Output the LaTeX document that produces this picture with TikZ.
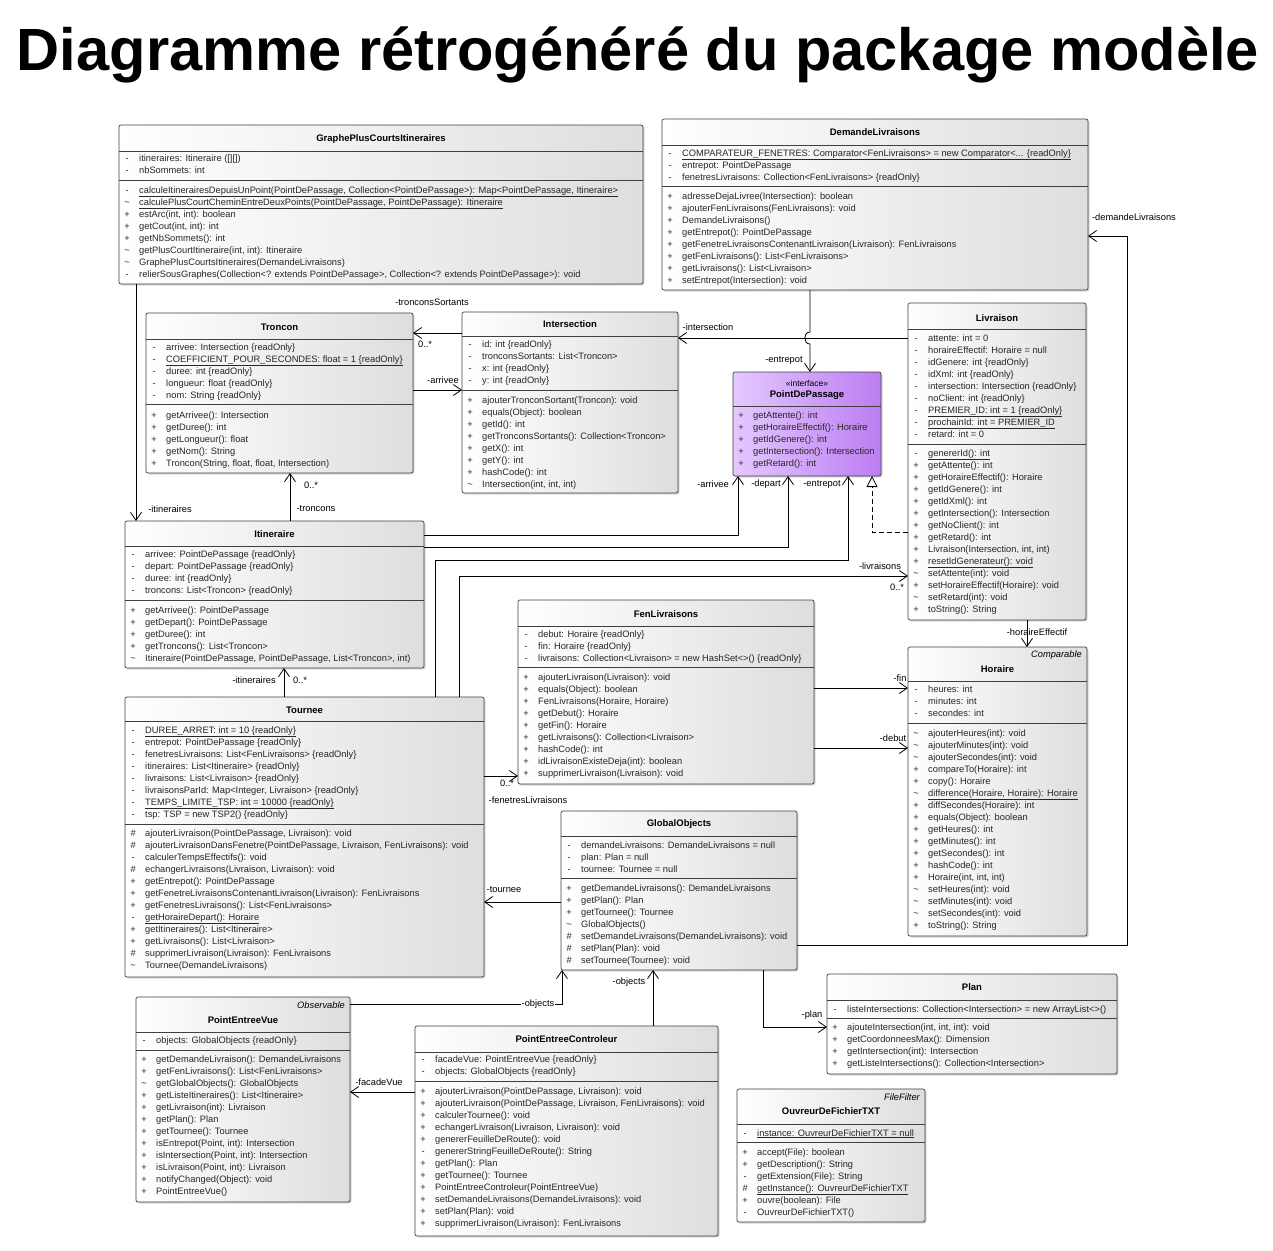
\documentclass[tikz,border=0pt]{standalone}
\usepackage{fontspec}
\setmainfont{Liberation Sans}
\usepackage{array}
\usepackage{graphicx}
\usetikzlibrary{arrows.meta,shadows}
\definecolor{pdpleft}{RGB}{228,200,255}
\definecolor{pdpright}{RGB}{188,125,242}
\newcommand\umlfont{\fontsize{9.3}{12}\selectfont}
\newcommand\umltitlefont{\fontsize{9.5}{12}\selectfont\bfseries}
\newcommand\umltilde{\textasciitilde}
\newcommand\RO{\{readOnly\}}
\newcommand\umlbox[8][]{%
  \node[classbox,#1,minimum width={(#5-#3)*1pt},minimum height={(#6-#4)*1pt}] (#2) at (#3,#4) {};
  \draw[sepline] (#2.west |- 0,#7) -- (#2.east |- 0,#7);
  \draw[sepline] (#2.west |- 0,#8) -- (#2.east |- 0,#8);
}
\newcommand\comp[4]{\node[comptext] (#1) at (#2+4,#3+3) {\begin{tabular}[t]{@{}>{\centering\arraybackslash}p{8pt}@{\hspace{8pt}}l@{}}#4\end{tabular}};}
\tikzset{
 classbox/.style={draw=black!75, line width=0.7pt, rounded corners=2pt, left color=white, right color=black!13,
   drop shadow={shadow xshift=1.5pt, shadow yshift=-1.5pt, opacity=0.3}, anchor=north west, inner sep=0pt, outer sep=0pt},
 ifacebox/.style={left color=pdpleft, right color=pdpright},
 sepline/.style={draw=black!75, line width=0.7pt},
 titletext/.style={font=\umltitlefont, text=black, inner sep=0pt},
 comptext/.style={anchor=base west, inner sep=0pt, font=\umlfont, text=black!85},
 lbl/.style={font=\umlfont, inner sep=0.5pt, text=black},
 assoc/.style={draw=black, line width=0.8pt, -{Straight Barb[length=8pt,width=11pt]}},
 realiz/.style={draw=black, line width=0.8pt, dash pattern=on 5pt off 3pt, -{Triangle[open,length=11pt,width=11pt,fill=white]}},
 stereo/.style={font=\umlfont\itshape, inner sep=0pt, anchor=east, text=black}
}
\begin{document}
\begin{tikzpicture}[x=1pt,y=-1pt]
\fill[white] (0,0) rectangle (1273,1250);
\useasboundingbox (0,0) rectangle (1273,1250);
\node[anchor=base, inner sep=0pt] (title) at (638,70) {\resizebox{1242pt}{!}{\bfseries Diagramme rétrogénéré du package modèle}};

\coordinate (hopA) at (810,332);
\coordinate (hopB) at (810,344);
\coordinate (bendDem) at (1127,236);
\coordinate (bendEnt) at (848,560);

% ---------- GraphePlusCourtsItineraires ----------
\umlbox{graphe}{119}{125}{643}{284}{151}{180}
\node[titletext] (graphe-t) at (graphe.north |- 0,139) {GraphePlusCourtsItineraires};
\comp{graphe-a}{119}{158}{- & itineraires: Itineraire ([][])\\
- & nbSommets: int}
\comp{graphe-m}{119}{190}{- & \underline{calculeItinerairesDepuisUnPoint(PointDePassage, Collection<PointDePassage>): Map<PointDePassage, Itineraire>}\\
\umltilde & \underline{calculePlusCourtCheminEntreDeuxPoints(PointDePassage, PointDePassage): Itineraire}\\
+ & estArc(int, int): boolean\\
+ & getCout(int, int): int\\
+ & getNbSommets(): int\\
\umltilde & getPlusCourtItineraire(int, int): Itineraire\\
\umltilde & GraphePlusCourtsItineraires(DemandeLivraisons)\\
- & relierSousGraphes(Collection<? extends PointDePassage>, Collection<? extends PointDePassage>): void}

% ---------- DemandeLivraisons ----------
\umlbox{dem}{662}{119}{1088}{290}{145}{186}
\node[titletext] (dem-t) at (dem.north |- 0,132) {DemandeLivraisons};
\comp{dem-a}{662}{153}{- & \underline{COMPARATEUR\_FENETRES: Comparator<FenLivraisons> = new Comparator<... \RO}\\
- & entrepot: PointDePassage\\
- & fenetresLivraisons: Collection<FenLivraisons> \RO}
\comp{dem-m}{662}{196}{+ & adresseDejaLivree(Intersection): boolean\\
+ & ajouterFenLivraisons(FenLivraisons): void\\
+ & DemandeLivraisons()\\
+ & getEntrepot(): PointDePassage\\
+ & getFenetreLivraisonsContenantLivraison(Livraison): FenLivraisons\\
+ & getFenLivraisons(): List<FenLivraisons>\\
+ & getLivraisons(): List<Livraison>\\
+ & setEntrepot(Intersection): void}

% ---------- Troncon ----------
\umlbox{troncon}{146}{313}{413}{473}{339}{404}
\node[titletext] (troncon-t) at (troncon.north |- 0,327) {Troncon};
\comp{troncon-a}{146}{347}{- & arrivee: Intersection \RO\\
- & \underline{COEFFICIENT\_POUR\_SECONDES: float = 1 \RO}\\
- & duree: int \RO\\
- & longueur: float \RO\\
- & nom: String \RO}
\comp{troncon-m}{146}{415}{+ & getArrivee(): Intersection\\
+ & getDuree(): int\\
+ & getLongueur(): float\\
+ & getNom(): String\\
+ & Troncon(String, float, float, Intersection)}

% ---------- Intersection ----------
\umlbox{inter}{462}{312}{678}{493}{336}{390}
\node[titletext] (inter-t) at (inter.north |- 0,324) {Intersection};
\comp{inter-a}{462}{344}{- & id: int \RO\\
- & tronconsSortants: List<Troncon>\\
- & x: int \RO\\
- & y: int \RO}
\comp{inter-m}{462}{400}{+ & ajouterTronconSortant(Troncon): void\\
+ & equals(Object): boolean\\
+ & getId(): int\\
+ & getTronconsSortants(): Collection<Troncon>\\
+ & getX(): int\\
+ & getY(): int\\
+ & hashCode(): int\\
\umltilde & Intersection(int, int, int)}

% ---------- PointDePassage ----------
\umlbox[ifacebox]{pdp}{733}{372}{881}{476}{406}{406}
\node[font=\fontsize{8.5}{10}\selectfont, inner sep=0pt, text=black] (pdp-s) at (pdp.north |- 0,383) {«interface»};
\node[titletext] (pdp-t) at (pdp.north |- 0,395) {PointDePassage};
\comp{pdp-m}{733}{415}{+ & getAttente(): int\\
+ & getHoraireEffectif(): Horaire\\
+ & getIdGenere(): int\\
+ & getIntersection(): Intersection\\
+ & getRetard(): int}

% ---------- Livraison ----------
\umlbox{livr}{908}{303}{1086}{620}{329}{444}
\node[titletext] (livr-t) at (livr.north |- 0,318) {Livraison};
\comp{livr-a}{908}{338}{- & attente: int = 0\\
- & horaireEffectif: Horaire = null\\
- & idGenere: int \RO\\
- & idXml: int \RO\\
- & intersection: Intersection \RO\\
- & noClient: int \RO\\
- & \underline{PREMIER\_ID: int = 1 \RO}\\
- & \underline{prochainId: int = PREMIER\_ID}\\
- & retard: int = 0}
\comp{livr-m}{908}{453}{- & \underline{genererId(): int}\\
+ & getAttente(): int\\
+ & getHoraireEffectif(): Horaire\\
+ & getIdGenere(): int\\
+ & getIdXml(): int\\
+ & getIntersection(): Intersection\\
+ & getNoClient(): int\\
+ & getRetard(): int\\
+ & Livraison(Intersection, int, int)\\
+ & \underline{resetIdGenerateur(): void}\\
\umltilde & setAttente(int): void\\
+ & setHoraireEffectif(Horaire): void\\
\umltilde & setRetard(int): void\\
+ & toString(): String}

% ---------- Itineraire ----------
\umlbox{itin}{125}{521}{424}{668}{546}{600}
\node[titletext] (itin-t) at (itin.north |- 0,534) {Itineraire};
\comp{itin-a}{125}{554}{- & arrivee: PointDePassage \RO\\
- & depart: PointDePassage \RO\\
- & duree: int \RO\\
- & troncons: List<Troncon> \RO}
\comp{itin-m}{125}{610}{+ & getArrivee(): PointDePassage\\
+ & getDepart(): PointDePassage\\
+ & getDuree(): int\\
+ & getTroncons(): List<Troncon>\\
\umltilde & Itineraire(PointDePassage, PointDePassage, List<Troncon>, int)}

% ---------- Tournee ----------
\umlbox{tour}{125}{697}{484}{977}{721}{824}
\node[titletext] (tour-t) at (tour.north |- 0,710) {Tournee};
\comp{tour-a}{125}{730}{- & \underline{DUREE\_ARRET: int = 10 \RO}\\
- & entrepot: PointDePassage \RO\\
- & fenetresLivraisons: List<FenLivraisons> \RO\\
- & itineraires: List<Itineraire> \RO\\
- & livraisons: List<Livraison> \RO\\
- & livraisonsParId: Map<Integer, Livraison> \RO\\
- & \underline{TEMPS\_LIMITE\_TSP: int = 10000 \RO}\\
- & tsp: TSP = new TSP2() \RO}
\comp{tour-m}{125}{833}{\# & ajouterLivraison(PointDePassage, Livraison): void\\
\# & ajouterLivraisonDansFenetre(PointDePassage, Livraison, FenLivraisons): void\\
- & calculerTempsEffectifs(): void\\
\# & echangerLivraisons(Livraison, Livraison): void\\
+ & getEntrepot(): PointDePassage\\
+ & getFenetreLivraisonsContenantLivraison(Livraison): FenLivraisons\\
+ & getFenetresLivraisons(): List<FenLivraisons>\\
- & \underline{getHoraireDepart(): Horaire}\\
+ & getItineraires(): List<Itineraire>\\
+ & getLivraisons(): List<Livraison>\\
\# & supprimerLivraison(Livraison): FenLivraisons\\
\umltilde & Tournee(DemandeLivraisons)}

% ---------- FenLivraisons ----------
\umlbox{fen}{518}{600}{814}{784}{626}{667}
\node[titletext] (fen-t) at (fen.north |- 0,614) {FenLivraisons};
\comp{fen-a}{518}{634}{- & debut: Horaire \RO\\
- & fin: Horaire \RO\\
- & livraisons: Collection<Livraison> = new HashSet<>() \RO}
\comp{fen-m}{518}{677}{+ & ajouterLivraison(Livraison): void\\
+ & equals(Object): boolean\\
+ & FenLivraisons(Horaire, Horaire)\\
+ & getDebut(): Horaire\\
+ & getFin(): Horaire\\
+ & getLivraisons(): Collection<Livraison>\\
+ & hashCode(): int\\
+ & idLivraisonExisteDeja(int): boolean\\
+ & supprimerLivraison(Livraison): void}

% ---------- Horaire ----------
\umlbox{hor}{908}{647}{1087}{936}{681}{723}
\node[stereo] (hor-s) at (1082,655) {Comparable};
\node[titletext] (hor-t) at (hor.north |- 0,669) {Horaire};
\comp{hor-a}{908}{689}{- & heures: int\\
- & minutes: int\\
- & secondes: int}
\comp{hor-m}{908}{733}{\umltilde & ajouterHeures(int): void\\
\umltilde & ajouterMinutes(int): void\\
\umltilde & ajouterSecondes(int): void\\
+ & compareTo(Horaire): int\\
+ & copy(): Horaire\\
\umltilde & \underline{difference(Horaire, Horaire): Horaire}\\
+ & diffSecondes(Horaire): int\\
+ & equals(Object): boolean\\
+ & getHeures(): int\\
+ & getMinutes(): int\\
+ & getSecondes(): int\\
+ & hashCode(): int\\
+ & Horaire(int, int, int)\\
\umltilde & setHeures(int): void\\
\umltilde & setMinutes(int): void\\
\umltilde & setSecondes(int): void\\
+ & toString(): String}

% ---------- GlobalObjects ----------
\umlbox{glob}{561}{811}{797}{970}{836}{878}
\node[titletext] (glob-t) at (glob.north |- 0,824) {GlobalObjects};
\comp{glob-a}{561}{845}{- & demandeLivraisons: DemandeLivraisons = null\\
- & plan: Plan = null\\
- & tournee: Tournee = null}
\comp{glob-m}{561}{888}{+ & getDemandeLivraisons(): DemandeLivraisons\\
+ & getPlan(): Plan\\
+ & getTournee(): Tournee\\
\umltilde & GlobalObjects()\\
\# & setDemandeLivraisons(DemandeLivraisons): void\\
\# & setPlan(Plan): void\\
\# & setTournee(Tournee): void}

% ---------- Plan ----------
\umlbox{plan}{827}{974}{1117}{1074}{1000}{1018}
\node[titletext] (plan-t) at (plan.north |- 0,987) {Plan};
\comp{plan-a}{827}{1009}{- & listeIntersections: Collection<Intersection> = new ArrayList<>()}
\comp{plan-m}{827}{1027}{+ & ajouteIntersection(int, int, int): void\\
+ & getCoordonneesMax(): Dimension\\
+ & getIntersection(int): Intersection\\
+ & getListeIntersections(): Collection<Intersection>}

% ---------- PointEntreeVue ----------
\umlbox{pev}{136}{997}{350}{1202}{1032}{1050}
\node[stereo] (pev-s) at (345,1005) {Observable};
\node[titletext] (pev-t) at (pev.north |- 0,1020) {PointEntreeVue};
\comp{pev-a}{136}{1040}{- & objects: GlobalObjects \RO}
\comp{pev-m}{136}{1059}{+ & getDemandeLivraison(): DemandeLivraisons\\
+ & getFenLivraisons(): List<FenLivraisons>\\
\umltilde & getGlobalObjects(): GlobalObjects\\
+ & getListeItineraires(): List<Itineraire>\\
+ & getLivraison(int): Livraison\\
+ & getPlan(): Plan\\
+ & getTournee(): Tournee\\
+ & isEntrepot(Point, int): Intersection\\
+ & isIntersection(Point, int): Intersection\\
+ & isLivraison(Point, int): Livraison\\
+ & notifyChanged(Object): void\\
+ & PointEntreeVue()}

% ---------- PointEntreeControleur ----------
\umlbox{pec}{415}{1026}{718}{1236}{1052}{1081}
\node[titletext] (pec-t) at (pec.north |- 0,1039) {PointEntreeControleur};
\comp{pec-a}{415}{1059}{- & facadeVue: PointEntreeVue \RO\\
- & objects: GlobalObjects \RO}
\comp{pec-m}{415}{1091}{+ & ajouterLivraison(PointDePassage, Livraison): void\\
+ & ajouterLivraison(PointDePassage, Livraison, FenLivraisons): void\\
+ & calculerTournee(): void\\
+ & echangerLivraison(Livraison, Livraison): void\\
+ & genererFeuilleDeRoute(): void\\
- & genererStringFeuilleDeRoute(): String\\
+ & getPlan(): Plan\\
+ & getTournee(): Tournee\\
+ & PointEntreeControleur(PointEntreeVue)\\
+ & setDemandeLivraisons(DemandeLivraisons): void\\
+ & setPlan(Plan): void\\
+ & supprimerLivraison(Livraison): FenLivraisons}

% ---------- OuvreurDeFichierTXT ----------
\umlbox{ouv}{737}{1089}{925}{1222}{1124}{1142}
\node[stereo] (ouv-s) at (920,1097) {FileFilter};
\node[titletext] (ouv-t) at (ouv.north |- 0,1111) {OuvreurDeFichierTXT};
\comp{ouv-a}{737}{1133}{- & \underline{instance: OuvreurDeFichierTXT = null}}
\comp{ouv-m}{737}{1152}{+ & accept(File): boolean\\
+ & getDescription(): String\\
- & getExtension(File): String\\
\# & \underline{getInstance(): OuvreurDeFichierTXT}\\
+ & ouvre(boolean): File\\
- & OuvreurDeFichierTXT()}

% ---------- connectors ----------
\draw[assoc] (graphe.south -| 136,0) -- (itin.north -| 136,0);
\draw[assoc] (inter.west |- 0,333) -- (troncon.east |- 0,333);
\draw[assoc] (troncon.east |- 0,390) -- (inter.west |- 0,390);
\draw[assoc] (itin.north -| 290,0) -- (troncon.south -| 290,0);
\draw[assoc] (livr.west |- 0,338) -- (inter.east |- 0,338);
\draw[assoc] (dem.south -| 810,0) -- (hopA) .. controls (803,332) and (803,344) .. (hopB) -- (pdp.north -| 810,0);
\draw[assoc] (itin.east |- 0,535) -| (pdp.south -| 738,0);
\draw[assoc] (itin.east |- 0,547) -| (pdp.south -| 788,0);
\draw[assoc] (tour.north -| 435,0) |- (bendEnt) -- (pdp.south -| 848,0);
\draw[assoc] (tour.north -| 459,0) |- (livr.west |- 0,576);
\draw[realiz] (livr.west |- 0,532) -| (pdp.south -| 872,0);
\draw[assoc] (tour.north -| 284,0) -- (itin.south -| 284,0);
\draw[assoc] (tour.east |- 0,776) -- (fen.west |- 0,776);
\draw[assoc] (fen.east |- 0,688) -- (hor.west |- 0,688);
\draw[assoc] (fen.east |- 0,748) -- (hor.west |- 0,748);
\draw[assoc] (livr.south -| 1027,0) -- (hor.north -| 1027,0);
\draw[assoc] (glob.west |- 0,902) -- (tour.east |- 0,902);
\draw[assoc] (glob.east |- 0,945) -| (bendDem) -- (dem.east |- 0,236);
\draw[assoc] (glob.south -| 763,0) |- (plan.west |- 0,1027);
\draw[assoc] (pev.east |- 0,1004) -| (glob.south -| 562,0);
\draw[assoc] (pec.north -| 653,0) -- (glob.south -| 653,0);
\draw[assoc] (pec.west |- 0,1092) -- (pev.east |- 0,1092);

% ---------- connector labels ----------
\node[lbl] (l-ts) at (432,302) {-tronconsSortants};
\node[lbl] (l-m1) at (425,344) {0..*};
\node[lbl] (l-arr1) at (443,380) {-arrivee};
\node[lbl] (l-int) at (708,327) {-intersection};
\node[lbl] (l-ent1) at (784,360) {-entrepot};
\node[lbl] (l-arr2) at (713,484) {-arrivee};
\node[lbl] (l-dep) at (766,484) {-depart};
\node[lbl] (l-ent2) at (822,484) {-entrepot};
\node[lbl] (l-it1) at (170,509) {-itineraires};
\node[lbl] (l-tr) at (316,509) {-troncons};
\node[lbl] (l-m2) at (311,485) {0..*};
\node[lbl] (l-liv) at (880,566) {-livraisons};
\node[lbl] (l-m3) at (897,587) {0..*};
\node[lbl] (l-he) at (1037,632) {-horaireEffectif};
\node[lbl] (l-it2) at (254,680) {-itineraires};
\node[lbl] (l-m4) at (300,680) {0..*};
\node[lbl] (l-m5) at (507,783) {0..*};
\node[lbl] (l-fl) at (528,800) {-fenetresLivraisons};
\node[lbl] (l-fin) at (900,678) {-fin};
\node[lbl] (l-deb) at (893,738) {-debut};
\node[lbl] (l-tou) at (504,890) {-tournee};
\node[lbl] (l-dl) at (1134,217) {-demandeLivraisons};
\node[lbl] (l-pl) at (812,1015) {-plan};
\node[lbl, fill=white] (l-ob1) at (538,1004) {-objects};
\node[lbl] (l-ob2) at (629,982) {-objects};
\node[lbl] (l-fv) at (379,1082) {-facadeVue};
\end{tikzpicture}
\end{document}
